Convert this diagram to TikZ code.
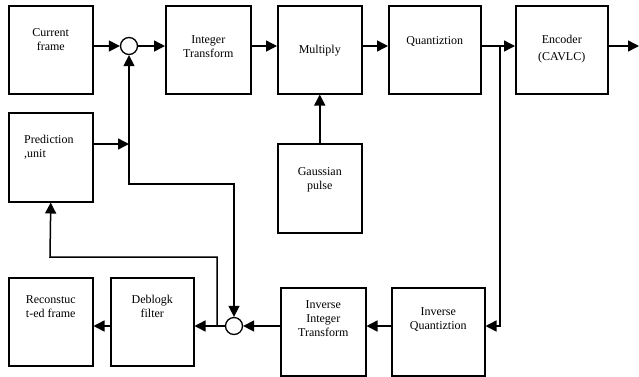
\documentclass[tikz,border=0pt]{standalone}
\usepackage{fontspec}
\setmainfont{Liberation Serif}
\usetikzlibrary{arrows.meta}

\begin{document}
\begin{tikzpicture}[x=1pt,y=-1pt,>={Triangle[length=11pt,width=11pt]},
	blk/.style={draw,line width=1.5pt,anchor=north west,inner sep=0pt},
	txt/.style={inner sep=0pt,align=center,font=\fontsize{12}{14}\selectfont},
	sum/.style={draw,circle,line width=1.3pt,minimum size=17pt,inner sep=0pt},
	con/.style={line width=1.5pt}]
		\useasboundingbox (0,0) rectangle (639,376);
		%forward path
		\node[blk,minimum width=84pt,minimum height=88pt,label={[txt,anchor=north,yshift=-23pt]north:{Current\\frame}}] (cur) at (8,5) {};
		\node[blk,minimum width=85pt,minimum height=88pt,label={[txt,anchor=north,yshift=-30pt]north:{Integer\\Transform}}] (it) at (165,5) {};
		\node[blk,minimum width=84pt,minimum height=88pt,label={[txt,anchor=north,yshift=-40pt]north:{Multiply}}] (mul) at (277,5) {};
		\node[blk,minimum width=92pt,minimum height=88pt,label={[txt,anchor=north,yshift=-31pt]north:{Quantiztion}}] (qnt) at (388,5) {};
		\node[blk,minimum width=92pt,minimum height=88pt,label={[txt,anchor=north,yshift=-30pt]north:{Encoder\\[3pt](CAVLC)}}] (enc) at (515,5) {};
		\node[blk,minimum width=84pt,minimum height=89pt,label={[txt,align=left,anchor=north west,xshift=16pt,yshift=-23pt]north west:{Prediction\\,unit}}] (pred) at (8,112) {};
		\node[blk,minimum width=84pt,minimum height=89pt,label={[txt,anchor=north,yshift=-24pt]north:{Gaussian\\pulse}}] (gau) at (277,143) {};
		%reconstruction path
		\node[blk,minimum width=84pt,minimum height=88pt,label={[txt,anchor=north,yshift=-18pt]north:{Reconstuc\\t-ed frame}}] (rec) at (8,277) {};
		\node[blk,minimum width=83pt,minimum height=88pt,label={[txt,anchor=north,yshift=-18pt]north:{Deblogk\\filter}}] (deb) at (110,277) {};
		\node[blk,minimum width=85pt,minimum height=88pt,label={[txt,anchor=north,yshift=-13pt]north:{Inverse\\Integer\\Transform}}] (iit) at (280,287) {};
		\node[blk,minimum width=93pt,minimum height=88pt,label={[txt,anchor=north,yshift=-20pt]north:{Inverse\\Quantiztion}}] (iq) at (391,287) {};
		\node[sum] (sum1) at (129,46) {};
		\node[sum] (sum2) at (234,326) {};
		\coordinate (out) at (639,46);
		\coordinate (br) at (500,46);
		\coordinate (pin) at (129,144);
		\coordinate (fb) at (129,184);
		\coordinate (tap) at (217,326);
		\coordinate (up) at (50,257);
		
		\draw[con,->] (cur.east |- sum1) -- (sum1);
		\draw[con,->] (sum1) -- (it.west |- sum1);
		\draw[con,->] (it.east |- sum1) -- (mul.west |- sum1);
		\draw[con,->] (mul.east |- sum1) -- (qnt.west |- sum1);
		\draw[con,->] (qnt.east |- sum1) -- (enc.west |- sum1);
		\draw[con,->] (enc.east |- out) -- (out);
		\draw[con,->] (gau) -- (mul);
		\draw[con,->] (pred.east |- pin) -- (pin);
		\draw[con,<->] (sum1) -- (fb) -| (sum2);
		%loop back
		\draw[con,->] (br) |- (iq.east |- sum2);
		\draw[con,->] (iq.west |- sum2) -- (iit.east |- sum2);
		\draw[con,->] (iit.west |- sum2) -- (sum2);
		\draw[con,->] (sum2) -- (deb.east |- sum2);
		\draw[con,->] (deb.west |- sum2) -- (rec.east |- sum2);
		\draw[con,->] (tap) |- (up) -- (pred.south);
\end{tikzpicture}
\end{document}
